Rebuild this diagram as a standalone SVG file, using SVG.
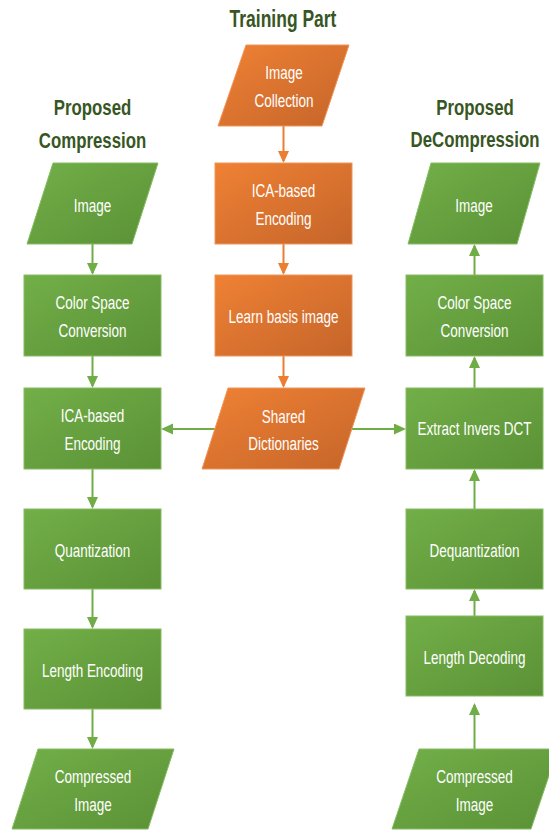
<svg xmlns="http://www.w3.org/2000/svg" width="549" height="833" viewBox="0 0 549 833">
<defs>
<linearGradient id="gG" x1="0" y1="0" x2="1" y2="1">
<stop offset="0" stop-color="#72AF48"/>
<stop offset="1" stop-color="#5A9136"/>
</linearGradient>
<linearGradient id="gO" x1="0" y1="0" x2="1" y2="1">
<stop offset="0" stop-color="#EF8134"/>
<stop offset="1" stop-color="#C5652A"/>
</linearGradient>
<marker id="aG" markerUnits="userSpaceOnUse" markerWidth="12" markerHeight="12" refX="10" refY="5.5" orient="auto">
<path d="M0,0 L12,5.5 L0,11 Z" fill="#70AD47"/>
</marker>
<marker id="aO" markerUnits="userSpaceOnUse" markerWidth="12" markerHeight="12" refX="10" refY="5.5" orient="auto">
<path d="M0,0 L12,5.5 L0,11 Z" fill="#ED7D31"/>
</marker>
</defs>
<style>
.g{fill:url(#gG);stroke:#86BC62;stroke-width:1}
.o{fill:url(#gO);stroke:#F0955A;stroke-width:1}
.t{font-family:"Liberation Sans",Arial,sans-serif;font-size:13.5px;fill:#FFFFFF;text-anchor:middle}
.h{font-family:"Liberation Sans",Arial,sans-serif;font-size:16.8px;font-weight:bold;fill:#375623;text-anchor:middle}
.cg{stroke:#70AD47;stroke-width:2;fill:none;marker-end:url(#aG)}
.co{stroke:#ED7D31;stroke-width:2;fill:none;marker-end:url(#aO)}
</style>
<rect width="549" height="833" fill="#FFFFFF"/>

<g id="titles">
<text class="h" transform="translate(283 27) scale(1 1.36)" style="font-size:17.5px">Training Part</text>
<text class="h" transform="translate(92.5 115) scale(1 1.36)">Proposed</text>
<text class="h" transform="translate(92.5 148) scale(1 1.36)">Compression</text>
<text class="h" transform="translate(475 115) scale(1 1.36)">Proposed</text>
<text class="h" transform="translate(475 147) scale(1 1.36)">DeCompression</text>
</g>

<g id="connectors">
<path class="cg" d="M92.5,244 V273"/>
<path class="cg" d="M92.5,356 V386"/>
<path class="cg" d="M92.5,469 V507"/>
<path class="cg" d="M92.5,589 V627"/>
<path class="cg" d="M92.5,709 V747"/>
<path class="cg" d="M474.5,275 V246"/>
<path class="cg" d="M474.5,388 V358"/>
<path class="cg" d="M474.5,509 V471"/>
<path class="cg" d="M474.5,616 V591"/>
<path class="cg" d="M474.5,749 V705"/>
<path class="cg" d="M215,429 H163"/>
<path class="cg" d="M352,429 H404"/>
<path class="co" d="M283.5,126 V161"/>
<path class="co" d="M283.5,244 V273"/>
<path class="co" d="M283.5,356 V386"/>
</g>

<g id="comp-image">
<polygon class="g" points="53,163 158,163 132,244 27,244"/>
<text class="t" transform="translate(92.5 211.5) scale(1 1.35)">Image</text>
</g>
<g id="comp-colorspace">
<rect class="g" x="24" y="275" width="137" height="81"/>
<text class="t" transform="translate(92.5 309) scale(1 1.35)">Color Space</text>
<text class="t" transform="translate(92.5 337) scale(1 1.35)">Conversion</text>
</g>
<g id="comp-ica">
<rect class="g" x="24" y="388" width="137" height="81"/>
<text class="t" transform="translate(92.5 422) scale(1 1.35)">ICA-based</text>
<text class="t" transform="translate(92.5 450) scale(1 1.35)">Encoding</text>
</g>
<g id="comp-quant">
<rect class="g" x="24" y="509" width="137" height="80"/>
<text class="t" transform="translate(92.5 556.5) scale(1 1.35)">Quantization</text>
</g>
<g id="comp-length">
<rect class="g" x="24" y="629" width="137" height="80"/>
<text class="t" transform="translate(92.5 676.5) scale(1 1.35)">Length Encoding</text>
</g>
<g id="comp-compressed">
<polygon class="g" points="38,749 174,749 148,829 12,829"/>
<text class="t" transform="translate(93 782.5) scale(1 1.35)">Compressed</text>
<text class="t" transform="translate(93 810.5) scale(1 1.35)">Image</text>
</g>

<g id="train-collection">
<polygon class="o" points="246,45 349,45 322,126 218,126"/>
<text class="t" transform="translate(284 79) scale(1 1.35)">Image</text>
<text class="t" transform="translate(284 106.5) scale(1 1.35)">Collection</text>
</g>
<g id="train-ica">
<rect class="o" x="215" y="163" width="137" height="81"/>
<text class="t" transform="translate(283.5 197) scale(1 1.35)">ICA-based</text>
<text class="t" transform="translate(283.5 225) scale(1 1.35)">Encoding</text>
</g>
<g id="train-learn">
<rect class="o" x="215" y="275" width="137" height="81"/>
<text class="t" transform="translate(283.5 322.5) scale(1 1.35)">Learn basis image</text>
</g>
<g id="train-shared">
<polygon class="o" points="228,388 365,388 339,469 202,469"/>
<text class="t" transform="translate(283.5 423) scale(1 1.35)">Shared</text>
<text class="t" transform="translate(283.5 450) scale(1 1.35)">Dictionaries</text>
</g>

<g id="decomp-image">
<polygon class="g" points="431,163 540,163 517,244 408,244"/>
<text class="t" transform="translate(474 211.5) scale(1 1.35)">Image</text>
</g>
<g id="decomp-colorspace">
<rect class="g" x="406" y="275" width="137" height="81"/>
<text class="t" transform="translate(474.5 309) scale(1 1.35)">Color Space</text>
<text class="t" transform="translate(474.5 337) scale(1 1.35)">Conversion</text>
</g>
<g id="decomp-extract">
<rect class="g" x="406" y="388" width="137" height="81"/>
<text class="t" transform="translate(474.5 435) scale(1 1.35)">Extract Invers DCT</text>
</g>
<g id="decomp-dequant">
<rect class="g" x="406" y="509" width="137" height="80"/>
<text class="t" transform="translate(474.5 556.5) scale(1 1.35)">Dequantization</text>
</g>
<g id="decomp-length">
<rect class="g" x="406" y="616" width="137" height="80"/>
<text class="t" transform="translate(474.5 663.5) scale(1 1.35)">Length Decoding</text>
</g>
<g id="decomp-compressed">
<polygon class="g" points="419,749 558,749 531,829 392,829"/>
<text class="t" transform="translate(474.5 782.5) scale(1 1.35)">Compressed</text>
<text class="t" transform="translate(474.5 810.5) scale(1 1.35)">Image</text>
</g>
</svg>
